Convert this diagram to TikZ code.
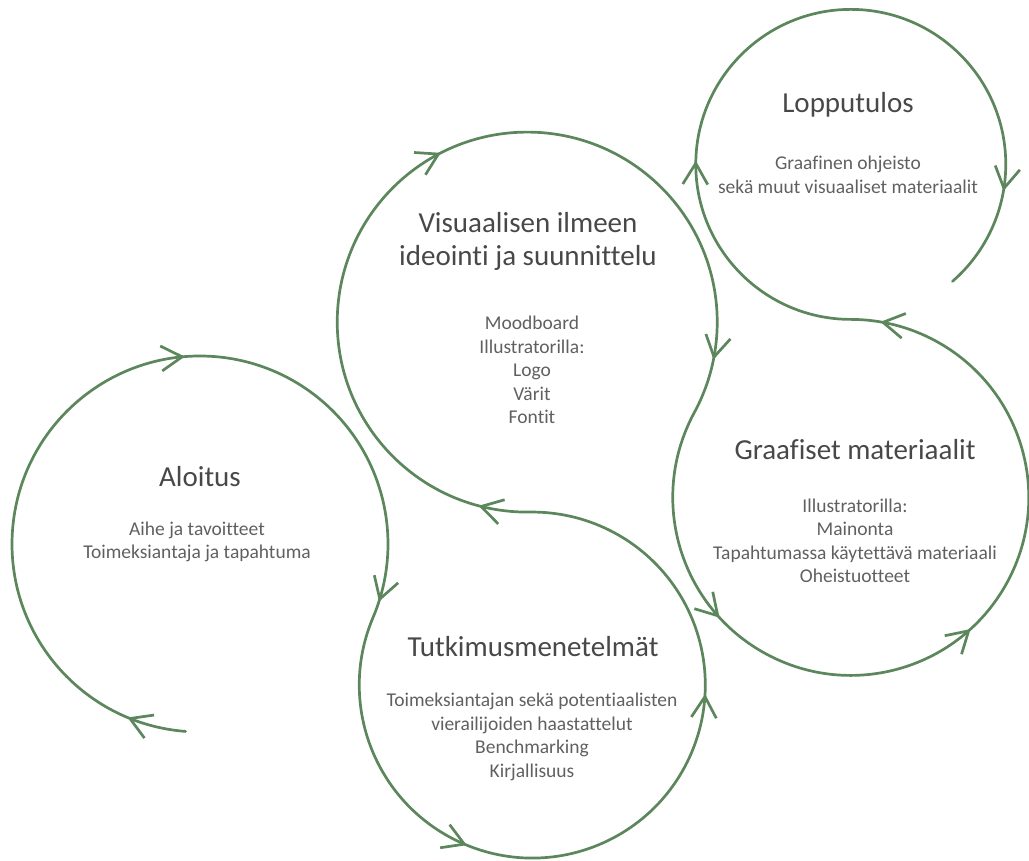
\documentclass[tikz,border=0pt]{standalone}
\usepackage{fontspec}
\setmainfont{Carlito}[Ligatures=NoCommon]
\usepackage{tikz}
\usetikzlibrary{arrows.meta,decorations.markings}
\definecolor{leaf}{RGB}{92,134,92}
\definecolor{ink}{RGB}{72,72,72}
\definecolor{softink}{RGB}{96,96,96}

\begin{document}
\begin{tikzpicture}[x=1pt,y=1pt,>={Straight Barb[length=21pt,width=25pt]}]
    % `flow' is the one long line that loops round every stage.
    % `stagetitle' and `stagetext' are used for the texts in the loops.
    \tikzstyle{flow} = [draw=leaf,line width=2.7pt,line cap=round,postaction={decorate},
      decoration={markings,
        mark=at position 60pt with {\arrow{>}},
        mark=at position 561pt with {\arrow{>}},
        mark=at position 930pt with {\arrow{>}},
        mark=at position 1221pt with {\arrow{>}},
        mark=at position 1551pt with {\arrow{>}},
        mark=at position 1886pt with {\arrow{>}},
        mark=at position 2344pt with {\arrow{>}},
        mark=at position 2770pt with {\arrow{>}},
        mark=at position 3047pt with {\arrow{>}},
        mark=at position 3326pt with {\arrow{>}},
        mark=at position 3724pt with {\arrow{>}},
        mark=at position 4001pt with {\arrow{>}},
        mark=at position 4511pt with {\arrow{>}}}]
    \tikzstyle{stagetitle} = [text=ink,font=\fontsize{29}{33}\selectfont,align=center]
    \tikzstyle{stagetext} = [text=softink,font=\fontsize{19.5}{23.5}\selectfont,align=center]
    %
    \useasboundingbox (0,0) rectangle (1029,861);
    % Centres of the loops.
    \coordinate (aloitusC) at (200,317);
    \coordinate (tutkC) at (532,176);
    \coordinate (visuC) at (527,539);
    \coordinate (graafC) at (850.5,363.7);
    \coordinate (loppuC) at (850.5,696.7);
    %
    \node[stagetitle] (aloitus) at (200,384) {Aloitus};
    \node[stagetext] (aloitusTxt) at (197,319) {Aihe ja tavoitteet\\Toimeksiantaja ja tapahtuma};

    \node[stagetitle] (tutk) at (533,214) {Tutkimusmenetelmät};
    \node[stagetext] (tutkTxt) at (532,124) {Toimeksiantajan sekä potentiaalisten\\vierailijoiden haastattelut\\Benchmarking\\Kirjallisuus};

    \node[stagetitle] (visu) at (528,620) {Visuaalisen ilmeen\\ideointi ja suunnittelu};
    \node[stagetext] (visuTxt) at (532,491) {Moodboard\\Illustratorilla:\\Logo\\Värit\\Fontit};

    \node[stagetitle] (graaf) at (855,411) {Graafiset materiaalit};
    \node[stagetext] (graafTxt) at (855,320) {Illustratorilla:\\Mainonta\\Tapahtumassa käytettävä materiaali\\Oheistuotteet};

    \node[stagetitle] (loppu) at (848,756) {Lopputulos};
    \node[stagetext] (loppuTxt) at (848,686) {Graafinen ohjeisto\\sekä muut visuaaliset materiaalit};
    %
    % Draw the loop line, one arc per stage.
    \draw[flow] ([shift={(265.6:188)}]aloitusC)
        arc[start angle=265.6,end angle=-23,radius=188]
        arc[start angle=157,end angle=450.8,radius=173]
        arc[start angle=270.8,end angle=-28.45,radius=190]
        arc[start angle=151.55,end angle=450,radius=178]
        arc[start angle=270,end angle=-49,radius=155];
\end{tikzpicture}
\end{document}
